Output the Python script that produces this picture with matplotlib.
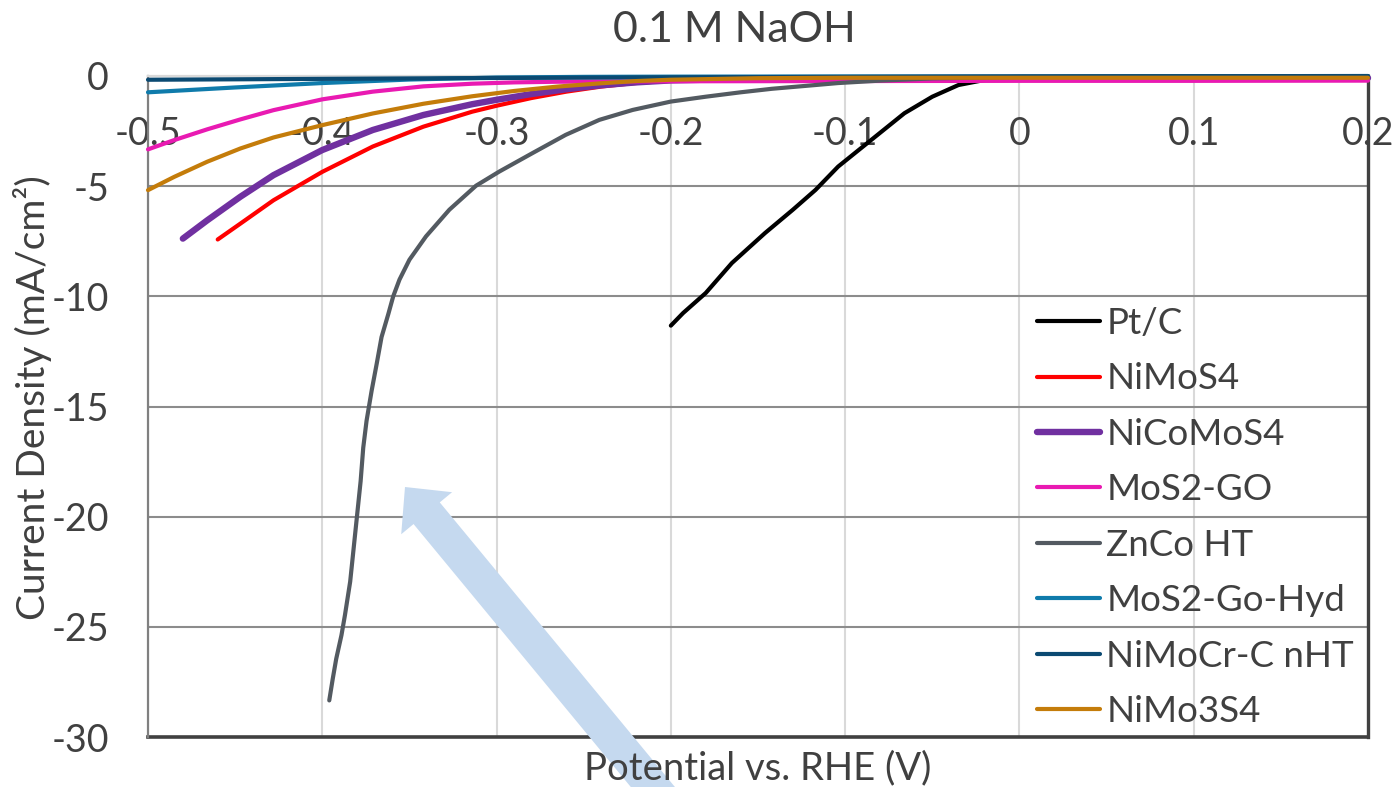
import numpy as np
import matplotlib
matplotlib.use("Agg")
import matplotlib.pyplot as plt
from matplotlib.patches import Polygon

plt.rcParams['font.family'] = ['Lato', 'DejaVu Sans']

# LSV curves in 0.1 M NaOH, potential (V vs RHE) and current density (mA/cm2)
pt_c_x = [-0.200, -0.193, -0.180, -0.165, -0.146, -0.130, -0.117, -0.104, -0.085, -0.066,
          -0.050, -0.035, -0.018, 0.000, 0.050, 0.100, 0.150, 0.200]
pt_c_y = [-11.33, -10.76, -9.85, -8.49, -7.13, -6.07, -5.17, -4.11, -2.90, -1.69,
          -0.94, -0.41, -0.15, -0.06, -0.03, -0.02, -0.01, -0.01]

nimos4_x = [-0.460, -0.447, -0.428, -0.400, -0.371, -0.342, -0.314, -0.300, -0.280, -0.260,
            -0.240, -0.222, -0.200, -0.150, -0.100, 0.000, 0.100, 0.200]
nimos4_y = [-7.42, -6.70, -5.64, -4.35, -3.20, -2.30, -1.62, -1.35, -1.00, -0.71,
            -0.48, -0.33, -0.21, -0.12, -0.10, -0.09, -0.09, -0.09]

nicomos4_x = [-0.480, -0.466, -0.447, -0.428, -0.400, -0.371, -0.342, -0.314, -0.300, -0.280,
              -0.260, -0.240, -0.220, -0.200, -0.150, -0.100, 0.000, 0.100, 0.200]
nicomos4_y = [-7.38, -6.55, -5.48, -4.50, -3.36, -2.45, -1.77, -1.28, -1.08, -0.82,
              -0.60, -0.42, -0.29, -0.20, -0.12, -0.10, -0.09, -0.09, -0.09]

mos2_go_x = [-0.500, -0.485, -0.466, -0.447, -0.428, -0.400, -0.371, -0.342, -0.314, -0.290,
             -0.265, -0.200, -0.100, 0.000, 0.100, 0.200]
mos2_go_y = [-3.33, -2.91, -2.42, -1.97, -1.55, -1.06, -0.71, -0.47, -0.35, -0.29,
             -0.26, -0.24, -0.23, -0.22, -0.22, -0.21]

znco_ht_x = [-0.396, -0.394, -0.392, -0.389, -0.387, -0.384, -0.382, -0.380, -0.378, -0.3765,
             -0.3746, -0.3717, -0.3688, -0.366, -0.3621, -0.3593, -0.3557, -0.350, -0.3405, -0.3271,
             -0.3118, -0.2985, -0.2794, -0.2603, -0.241, -0.2219, -0.200, -0.180, -0.160, -0.142,
             -0.120, -0.104, -0.080, -0.050, 0.000, 0.100, 0.200]
znco_ht_y = [-28.34, -27.36, -26.45, -25.38, -24.47, -22.95, -21.43, -19.91, -18.39, -16.87,
             -15.65, -14.29, -13.07, -11.85, -10.80, -10.00, -9.24, -8.34, -7.28, -6.07,
             -4.98, -4.34, -3.50, -2.67, -1.99, -1.54, -1.16, -0.94, -0.74, -0.58,
             -0.43, -0.32, -0.21, -0.11, -0.04, -0.02, -0.01]

mos2_go_hyd_x = [-0.500, -0.450, -0.400, -0.350, -0.300, -0.250, -0.200, -0.100, 0.000, 0.100, 0.200]
mos2_go_hyd_y = [-0.74, -0.52, -0.32, -0.16, -0.07, -0.04, -0.03, -0.02, -0.02, -0.02, -0.02]

nimocr_x = [-0.500, -0.400, -0.300, -0.200, -0.100, 0.000, 0.100, 0.200]
nimocr_y = [-0.17, -0.13, -0.09, -0.06, -0.04, -0.02, -0.01, 0.00]

nimo3s4_x = [-0.500, -0.485, -0.466, -0.447, -0.428, -0.400, -0.371, -0.342, -0.314, -0.290,
             -0.265, -0.240, -0.220, -0.200, -0.150, -0.100, 0.000, 0.100, 0.200]
nimo3s4_y = [-5.18, -4.58, -3.89, -3.29, -2.79, -2.23, -1.70, -1.26, -0.92, -0.68,
             -0.48, -0.33, -0.23, -0.17, -0.10, -0.08, -0.08, -0.08, -0.08]

series = [
    ("Pt/C", pt_c_x, pt_c_y, "#000000", 3.0),
    ("NiMoS4", nimos4_x, nimos4_y, "#ff0000", 3.0),
    ("NiCoMoS4", nicomos4_x, nicomos4_y, "#7030a0", 4.6),
    ("MoS2-GO", mos2_go_x, mos2_go_y, "#e91ab2", 3.0),
    ("ZnCo HT", znco_ht_x, znco_ht_y, "#535a61", 3.0),
    ("MoS2-Go-Hyd", mos2_go_hyd_x, mos2_go_hyd_y, "#0f7bab", 3.0),
    ("NiMoCr-C nHT", nimocr_x, nimocr_y, "#0b4a72", 3.0),
    ("NiMo3S4", nimo3s4_x, nimo3s4_y, "#c47c0a", 3.0),
]

xticks = [-0.5, -0.4, -0.3, -0.2, -0.1, 0.0, 0.1, 0.2]
xticklabels = ["-0.5", "-0.4", "-0.3", "-0.2", "-0.1", "0", "0.1", "0.2"]
yticks = [0, -5, -10, -15, -20, -25, -30]
yticklabels = ["0", "-5", "-10", "-15", "-20", "-25", "-30"]

W, H = 1397, 787
fig = plt.figure(figsize=(W / 100, H / 100), dpi=100)
ax = fig.add_axes([148 / W, 1 - 737 / H, 1220 / W, 661 / H])
ax.patch.set_alpha(0)

fs = 27
txt = "#404040"

for name, xs, ys, col, lw in series:
    ax.plot(xs, ys, color=col, lw=lw, label=name, solid_capstyle="round",
            solid_joinstyle="round", clip_on=False, zorder=3)

ax.set_xlim(-0.5, 0.2)
ax.set_ylim(-30, 0)
ax.set_xticks(xticks)
ax.set_xticklabels(xticklabels)
ax.set_yticks(yticks)
ax.set_yticklabels(yticklabels)
ax.tick_params(axis="both", length=0, labelsize=fs, labelcolor=txt)
ax.tick_params(axis="x", pad=29)
ax.tick_params(axis="y", pad=28)

# horizontal axis crosses at y = 0
ax.spines["bottom"].set_position(("data", 0))
ax.spines["bottom"].set_color("#d9d9d9")
ax.spines["bottom"].set_linewidth(1.6)
ax.spines["top"].set_visible(False)
ax.spines["left"].set_color("#808080")
ax.spines["left"].set_linewidth(1.6)
ax.spines["right"].set_color("#404040")
ax.spines["right"].set_linewidth(2.4)
ax.axhline(-30, color="#404040", lw=2.6, clip_on=False, zorder=2.5)

ax.grid(axis="y", color="#8c8c8c", lw=1.5)
ax.grid(axis="x", color="#d9d9d9", lw=1.5)
ax.set_axisbelow(True)

# callout arrow pointing at the ZnCo HT curve
tip = np.array([405.0, 487.0])
d = np.array([0.637, 0.771])
n = np.array([0.771, -0.637])
hl, hw, sw, tail = 34, 33, 17, 460
pts = [tip, tip + hl * d + hw * n, tip + hl * d + sw * n, tip + tail * d + sw * n,
       tip + tail * d - sw * n, tip + hl * d - sw * n, tip + hl * d - hw * n]
pts = [(p[0] / W, 1 - p[1] / H) for p in pts]
fig.patches.append(Polygon(pts, closed=True, transform=fig.transFigure,
                           facecolor="#c5d9ef", edgecolor="none", zorder=0))

fig.text(734 / W, 1 - 30 / H, "0.1 M NaOH", ha="center", va="center", fontsize=31, color=txt)
fig.text(758 / W, 1 - 768 / H, "Potential vs. RHE (V)", ha="center", va="center", fontsize=27.5, color=txt)
fig.text(33 / W, 1 - 398 / H, "Current Density (mA/cm²)", ha="center", va="center",
         rotation=90, fontsize=28, color=txt)

leg = ax.legend(loc="upper left", bbox_to_anchor=(1037 / W, 1 - 307 / H),
                bbox_transform=fig.transFigure, frameon=False, fontsize=26.5,
                handlelength=1.7, handletextpad=0.18, labelspacing=0.61,
                borderpad=0, borderaxespad=0)
for t in leg.get_texts():
    t.set_color(txt)

fig.savefig("out.png", dpi=100)
